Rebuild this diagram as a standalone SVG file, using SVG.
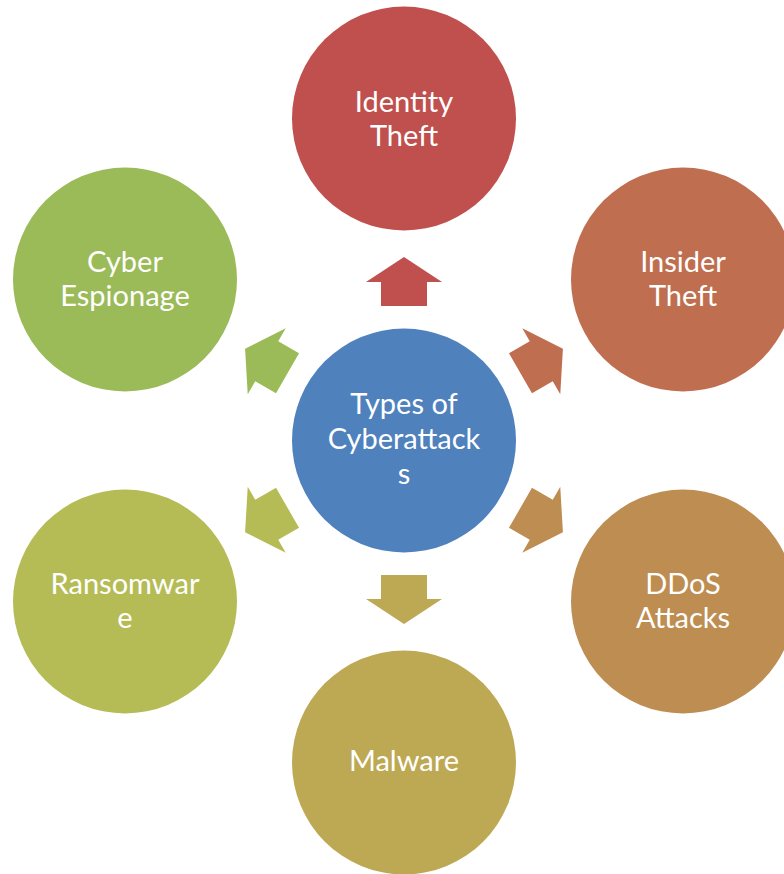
<svg xmlns="http://www.w3.org/2000/svg" xmlns:xlink="http://www.w3.org/1999/xlink" width="784" height="874" viewBox="0 0 784 874">
  <style>
    .lbl { font-family: "Lato", "Liberation Sans", sans-serif; font-size: 29px; fill: #FFFFFF; text-anchor: middle; }
  </style>
  <defs>
    <path id="arr" d="M0,-183.5 L38,-158.5 L23,-158.5 L23,-134.5 L-23,-134.5 L-23,-158.5 L-38,-158.5 Z"/>
  </defs>
  <rect width="784" height="874" fill="#FFFFFF"/>
  <g id="connectors" transform="translate(404,440.5)">
    <use xlink:href="#arr" href="#arr" fill="#C0504D" transform="rotate(0)"/>
    <use xlink:href="#arr" href="#arr" fill="#BF6F4F" transform="rotate(60)"/>
    <use xlink:href="#arr" href="#arr" fill="#BE8D52" transform="rotate(120)"/>
    <use xlink:href="#arr" href="#arr" fill="#BDA954" transform="rotate(180)"/>
    <use xlink:href="#arr" href="#arr" fill="#B5BC56" transform="rotate(240)"/>
    <use xlink:href="#arr" href="#arr" fill="#9BBB59" transform="rotate(300)"/>
  </g>
  <g id="center">
    <circle cx="404" cy="440.5" r="112" fill="#4F81BD"/>
    <text class="lbl" x="404" y="414">Types of</text>
    <text class="lbl" x="404" y="449">Cyberattack</text>
    <text class="lbl" x="404" y="484">s</text>
  </g>
  <g id="identity-theft">
    <circle cx="404" cy="118.5" r="112" fill="#C0504D"/>
    <text class="lbl" x="404" y="112">Identity</text>
    <text class="lbl" x="404" y="146">Theft</text>
  </g>
  <g id="insider-theft">
    <circle cx="683" cy="279.5" r="112" fill="#BF6F4F"/>
    <text class="lbl" x="683" y="272">Insider</text>
    <text class="lbl" x="683" y="306">Theft</text>
  </g>
  <g id="ddos-attacks">
    <circle cx="683" cy="601.5" r="112" fill="#BE8D52"/>
    <text class="lbl" x="683" y="594">DDoS</text>
    <text class="lbl" x="683" y="628">Attacks</text>
  </g>
  <g id="malware">
    <circle cx="404" cy="762.5" r="112" fill="#BDA954"/>
    <text class="lbl" x="404" y="771">Malware</text>
  </g>
  <g id="ransomware">
    <circle cx="125" cy="601.5" r="112" fill="#B5BC56"/>
    <text class="lbl" x="125" y="594">Ransomwar</text>
    <text class="lbl" x="125" y="628">e</text>
  </g>
  <g id="cyber-espionage">
    <circle cx="125" cy="279.5" r="112" fill="#9BBB59"/>
    <text class="lbl" x="125" y="272">Cyber</text>
    <text class="lbl" x="125" y="306">Espionage</text>
  </g>
</svg>
